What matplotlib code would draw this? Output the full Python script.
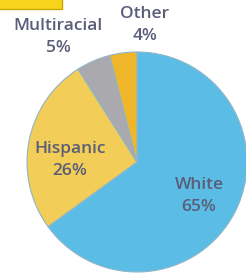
import matplotlib
matplotlib.use("Agg")
import matplotlib.pyplot as plt
from matplotlib.patches import Rectangle

groups = ["White", "Hispanic", "Multiracial", "Other"]
shares = [65, 26, 5, 4]
colors = ["#5bbde6", "#f2cd57", "#aaa9ad", "#efb62c"]

plt.rcParams["font.family"] = ["Open Sans", "DejaVu Sans"]

fig = plt.figure(figsize=(2.46, 2.75), dpi=100)
ax = fig.add_axes([0, 0, 1, 1])

ax.pie(shares, colors=colors, startangle=90, counterclock=False,
       center=(137, 113), radius=110, frame=True,
       wedgeprops=dict(linewidth=0.8, edgecolor="#8fb5c8"))
ax.set_xlim(0, 246)
ax.set_ylim(0, 275)
ax.set_aspect("equal")
ax.axis("off")

# yellow header box, cut off at top
ax.add_patch(Rectangle((-2, 266), 64, 12, facecolor="#f6d41c", edgecolor="#c9a800", linewidth=1))

label_pos = {"White": (199, 79), "Hispanic": (70, 115), "Multiracial": (58, 238), "Other": (145, 250)}
for g, s in zip(groups, shares):
    x, y = label_pos[g]
    ax.text(x, y, f"{g}\n{s}%", ha="center", va="center", fontsize=12.5,
            fontweight="semibold", color="#5a5e78", linespacing=1.45)

fig.savefig("out.png", dpi=100)
